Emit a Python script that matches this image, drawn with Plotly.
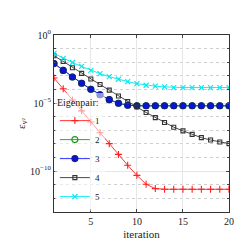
import plotly.graph_objects as go

iterations = list(range(1, 21))
exp1 = [-3.16, -3.95, -4.77, -5.57, -6.39, -7.18, -7.98, -8.77, -9.57, -10.31,
        -10.96, -11.28, -11.33, -11.33, -11.33, -11.33, -11.33, -11.33, -11.33, -11.33]
exp2 = [-2.10, -2.60, -3.08, -3.54, -3.98, -4.39, -4.75, -5.01, -5.16, -5.20,
        -5.20, -5.20, -5.20, -5.20, -5.20, -5.20, -5.20, -5.20, -5.20, -5.20]
exp3 = list(exp2)
exp4 = [-1.52, -1.95, -2.41, -2.82, -3.23, -3.64, -4.05, -4.48, -4.89, -5.28,
        -5.69, -6.07, -6.43, -6.77, -7.04, -7.30, -7.54, -7.71, -7.86, -7.98]
exp5 = [-1.35, -1.71, -2.02, -2.31, -2.60, -2.84, -3.06, -3.25, -3.42, -3.57,
        -3.69, -3.76, -3.81, -3.86, -3.86, -3.86, -3.86, -3.86, -3.86, -3.86]

names = ["1", "2", "3", "4", "5"]
y_tick_vals = [1, 1e-5, 1e-10]
y_tick_text = ["10<sup>0</sup>", "10<sup>−5</sup>", "10<sup>−10</sup>"]
x_tick_vals = [5, 10, 15, 20]

series = [exp1, exp2, exp3, exp4, exp5]
styles = [
    dict(color="#ff2020", symbol="cross-thin-open", size=5, fill=None),
    dict(color="#1a9a1a", symbol="circle-open", size=6, fill=None),
    dict(color="#1a1aff", symbol="circle", size=6, fill="#0a12e0"),
    dict(color="#333333", symbol="square-open", size=4, fill=None),
    dict(color="#00e8f0", symbol="x-thin-open", size=5, fill=None),
]

fig = go.Figure()
for name, e, st in zip(names, series, styles):
    marker = dict(symbol=st["symbol"], size=st["size"], color=st["fill"] or st["color"],
                  line=dict(color=st["color"] if st["fill"] is None else "#102080", width=1.1))
    fig.add_trace(go.Scatter(
        x=iterations, y=[10 ** v for v in e], mode="lines+markers", name=name,
        line=dict(color=st["color"], width=0.9), marker=marker,
    ))

minor_vals = [10 ** (-k) for k in range(0, 14) if k not in (0, 5, 10)]

fig.update_layout(
    width=243, height=243,
    margin=dict(l=41, r=22, t=27, b=37),
    paper_bgcolor="white", plot_bgcolor="white",
    font=dict(family="Liberation Serif", size=10, color="#222"),
    legend=dict(
        title=dict(text="Eigenpair:", font=dict(size=10)),
        x=0.005, y=0.005, xanchor="left", yanchor="bottom",
        bgcolor="rgba(255,255,255,0.55)", borderwidth=0, font=dict(size=9),
        tracegroupgap=0, itemwidth=30,
    ),
    xaxis=dict(
        range=[1, 20], tickvals=x_tick_vals, ticks="inside", ticklen=3,
        showline=True, linecolor="#333", linewidth=1, mirror="ticks",
        showgrid=True, gridcolor="#e6e6e6", zeroline=False,
        title=dict(text="iteration", standoff=4, font=dict(size=11)),
    ),
    yaxis=dict(
        type="log", range=[-13, 0], tickvals=y_tick_vals, ticktext=y_tick_text,
        ticks="inside", ticklen=3,
        showline=True, linecolor="#333", linewidth=1, mirror="ticks",
        showgrid=True, gridcolor="#e6e6e6", zeroline=False,
        minor=dict(tickvals=minor_vals, showgrid=True, gridcolor="#cfcfcf",
                   griddash="dot", ticks="inside", ticklen=2),
        title=dict(text="ε<sub>v²</sub>", standoff=2, font=dict(size=11)),
    ),
)

fig.write_html("out.html")
